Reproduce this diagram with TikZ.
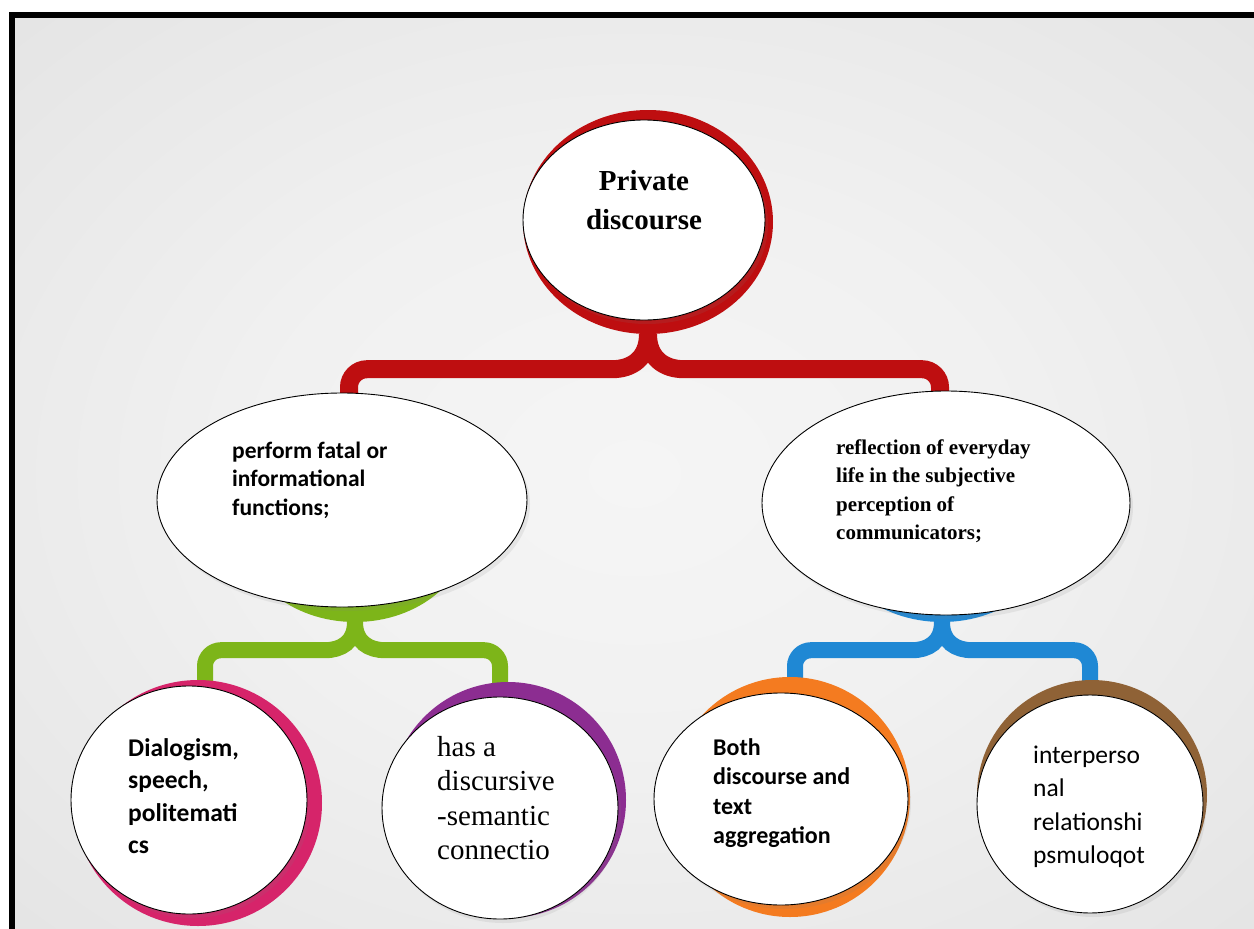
\documentclass[tikz,border=0pt]{standalone}
\usepackage{fontspec}
\newfontfamily\tmsfont{Liberation Serif}
\newfontfamily\clbfont{Carlito}
\usetikzlibrary{shapes.geometric,shadows,calc}
\definecolor{bgin}{HTML}{F5F5F5}
\definecolor{bgone}{HTML}{F1F1F1}
\definecolor{bgmid}{HTML}{E5E5E5}
\definecolor{bgedge}{HTML}{DCDCDC}
\definecolor{bgout}{HTML}{D6D6D6}
\definecolor{cRed}{HTML}{BE0E10}
\definecolor{cGreen}{HTML}{7DB519}
\definecolor{cBlue}{HTML}{1F88D4}
\definecolor{cPink}{HTML}{D6246A}
\definecolor{cPurple}{HTML}{8C2D91}
\definecolor{cOrange}{HTML}{F47B20}
\definecolor{cBrown}{HTML}{8F6236}
\pgfdeclareradialshading{bgshade}{\pgfpoint{0bp}{0bp}}{color(0bp)=(bgin); color(15bp)=(bgone); color(35bp)=(bgmid); color(50bp)=(bgedge); color(71bp)=(bgout)}
\pgfdeclarelayer{back}\pgfdeclarelayer{conn}\pgfdeclarelayer{disc}
\pgfsetlayers{back,conn,disc,main}
\tikzset{
  whiteoval/.style={ellipse, draw=black, line width=0.9pt, fill=white, inner sep=0pt,
    drop shadow={shadow xshift=3pt, shadow yshift=-4pt, opacity=0.13}},
  colordisc/.style={ellipse, inner sep=0pt, fill=#1},
  conn/.style={line width=18pt, draw=#1},
  conntwo/.style={line width=16pt, draw=#1},
  lbl/.style={inner sep=0pt, anchor=base west},
  lblc/.style={inner sep=0pt, anchor=base},
}
\begin{document}
\begin{tikzpicture}[x=1pt,y=-1pt]
\useasboundingbox (0,0) rectangle (1254,929);
\begin{pgfonlayer}{back}
\fill[white] (0,0) rectangle (1254,929);
\shade[shading=bgshade] (15,18) rectangle (1254,929);
\fill[black] (9,12) rectangle (1254,18);
\fill[black] (9,12) rectangle (15,929);
\end{pgfonlayer}

% coloured discs
\begin{pgfonlayer}{disc}
\node[colordisc=cRed, minimum width=250pt, minimum height=224pt] (rd) at (648,222) {};
\node[colordisc=cGreen, minimum width=230pt, minimum height=190pt] (gd) at (355,527) {};
\node[colordisc=cBlue, minimum width=230pt, minimum height=190pt] (bd) at (942,527) {};
\node[colordisc=cPink, minimum width=248pt, minimum height=246pt] (kd) at (198,803) {};
\node[colordisc=cPurple, minimum width=236pt, minimum height=236pt] (ud) at (508,800) {};
\node[colordisc=cOrange, minimum width=240pt, minimum height=240pt] (od) at (790,797) {};
\node[colordisc=cBrown, minimum width=230pt, minimum height=230pt] (nd) at (1092,795) {};
\end{pgfonlayer}

% white ovals
\node[whiteoval, minimum width=242pt, minimum height=200pt] (pd) at (644,220) {};
\node[whiteoval, minimum width=370pt, minimum height=214pt] (pf) at (342,500) {};
\node[whiteoval, minimum width=368pt, minimum height=224pt] (rf) at (946,503) {};
\node[whiteoval, minimum width=236pt, minimum height=228pt] (dg) at (189,800) {};
\node[whiteoval, minimum width=236pt, minimum height=222pt] (hs) at (500,808) {};
\node[whiteoval, minimum width=254pt, minimum height=212pt] (bt) at (781,799) {};
\node[whiteoval, minimum width=226pt, minimum height=218pt] (ip) at (1090,804) {};

% texts
\node[lblc] (tpd) at (644,190) {\parbox[t]{220pt}{\centering\tmsfont\bfseries\fontsize{29}{39}\selectfont Private\\discourse}};
\node[lbl] (tpf) at (232,458) {\parbox[t]{260pt}{\raggedright\clbfont\bfseries\fontsize{23.5}{28.5}\selectfont perform fatal or\\informational\\functions;}};
\node[lbl] (trf) at (836,454) {\parbox[t]{260pt}{\raggedright\tmsfont\bfseries\fontsize{21}{28.5}\selectfont reflection of everyday\\life in the subjective\\perception of\\communicators;}};
\node[lbl] (tdg) at (128,756) {\parbox[t]{170pt}{\raggedright\clbfont\bfseries\fontsize{25.5}{32.5}\selectfont Dialogism,\\speech,\\politemati\\cs}};
\node[lbl] (ths) at (437,756) {\parbox[t]{170pt}{\raggedright\tmsfont\fontsize{29}{34.5}\selectfont has a\\discursive\\-semantic\\connectio}};
\node[lbl] (tbt) at (713,755) {\parbox[t]{180pt}{\raggedright\clbfont\bfseries\fontsize{24}{29.5}\selectfont Both\\discourse and\\text\\aggregation}};
\node[lbl] (tip) at (1033,763) {\parbox[t]{170pt}{\raggedright\clbfont\fontsize{25.5}{33.5}\selectfont interperso\\nal\\relationshi\\psmuloqot}};

% connectors
\begin{pgfonlayer}{conn}
\draw[conn=cRed] (rd.south) .. controls +(0,24) and +(20,0) .. ($(rd.south)+(-36,35)$) [rounded corners=18pt] -| ($(pf.north)+(7,22)$);
\draw[conn=cRed] (rd.south) .. controls +(0,24) and +(-20,0) .. ($(rd.south)+(36,35)$) [rounded corners=18pt] -| ($(rf.north)+(-6,22)$);
\draw[conntwo=cGreen] (gd.south) .. controls +(0,20) and +(16,0) .. ($(gd.south)+(-30,28)$) [rounded corners=16pt] -| ($(kd.north)+(7,24)$);
\draw[conntwo=cGreen] (gd.south) .. controls +(0,20) and +(-16,0) .. ($(gd.south)+(30,28)$) [rounded corners=16pt] -| ($(ud.north)+(-8,24)$);
\draw[conntwo=cBlue] (bd.south) .. controls +(0,20) and +(16,0) .. ($(bd.south)+(-30,28)$) [rounded corners=16pt] -| ($(od.north)+(5,26)$);
\draw[conntwo=cBlue] (bd.south) .. controls +(0,20) and +(-16,0) .. ($(bd.south)+(30,28)$) [rounded corners=16pt] -| ($(nd.north)+(-2,24)$);
\end{pgfonlayer}
\end{tikzpicture}
\end{document}
